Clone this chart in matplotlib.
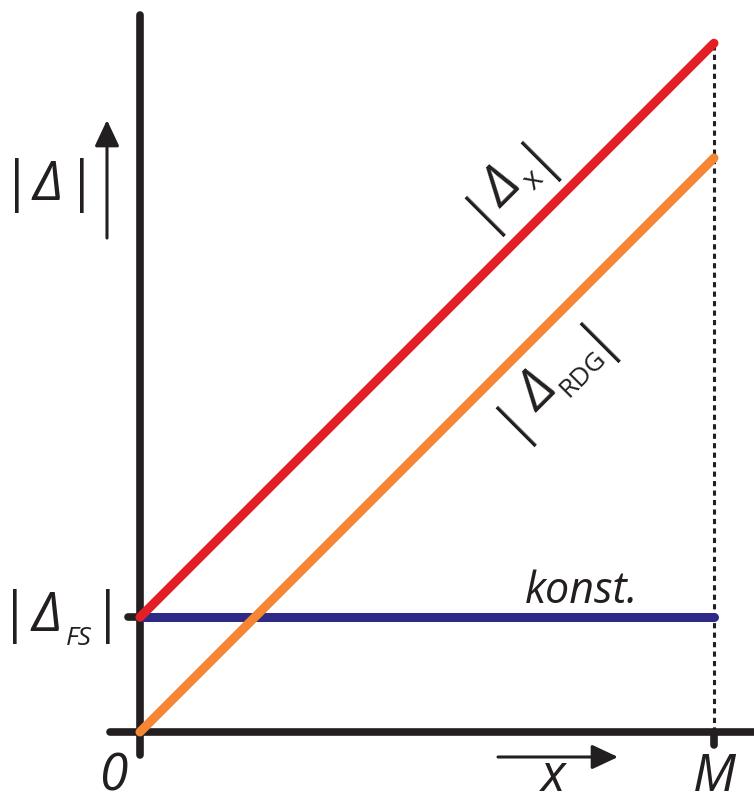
import numpy as np
import matplotlib

matplotlib.use("Agg")
from matplotlib import pyplot as plt
from matplotlib.patches import FancyArrowPatch
from matplotlib.transforms import ScaledTranslation

# schematic values: x runs from 0 to M, |Delta| in units of the slope
x_ends = [0.0, 1.0]
delta_fs = 0.2
delta_x = [0.2, 1.2]
delta_rdg = [0.0, 1.0]
delta_const = [0.2, 0.2]

RED = "#e31f26"
ORANGE = "#f58634"
BLUE = "#2e2a85"
INK = "#231f20"
FONT = "Open Sans"

fig = plt.figure(figsize=(7.54, 8.02), dpi=100)
ax = fig.add_axes([0, 0, 1, 1])
ax.set_xlim(-0.2439, 1.0697)
ax.set_ylim(-0.1220, 1.2753)
ax.axis("off")


def label(x, y, parts, angle=0.0):
    """Draw a label made of pieces; offsets (u, v) are pixels in the rotated frame."""
    th = np.radians(angle)
    for text, size, style, u, v in parts:
        ox = u * np.cos(th) - v * np.sin(th)
        oy = u * np.sin(th) + v * np.cos(th)
        tr = ax.transData + ScaledTranslation(ox / fig.dpi, oy / fig.dpi, fig.dpi_scale_trans)
        ax.text(x, y, text, transform=tr, rotation=angle, rotation_mode="anchor",
                ha="center", va="baseline", fontsize=size, fontstyle=style,
                family=FONT, color=INK)


# axes
ax.plot([0, 0], [-0.040, 1.249], color=INK, lw=5.5, solid_capstyle="round")
ax.plot([-0.052, 1.075], [0, 0], color=INK, lw=5.5, solid_capstyle="round")
ax.plot([-0.021, 0], [delta_fs, delta_fs], color=INK, lw=5.5, solid_capstyle="round")
ax.plot([x_ends[1], x_ends[1]], [-0.0226, 0], color=INK, lw=5.5, solid_capstyle="round")
ax.plot([x_ends[1], x_ends[1]], [0, delta_x[1]], color=INK, lw=2.2,
        linestyle=(0, (1.7, 1.4)))

# curves
ax.plot(x_ends, delta_const, color=BLUE, lw=6.5, solid_capstyle="round")
ax.plot(x_ends, delta_rdg, color=ORANGE, lw=6.5, solid_capstyle="round")
ax.plot(x_ends, delta_x, color=RED, lw=6.5, solid_capstyle="round")

# direction arrows
for start, end in [((-0.0575, 0.8606), (-0.0575, 1.0662)),
                   ((0.6237, -0.0436), (0.8328, -0.0436))]:
    ax.add_patch(FancyArrowPatch(start, end, arrowstyle="-|>,head_length=16,head_width=7.5",
                                 mutation_scale=1, color=INK, lw=2.2,
                                 shrinkA=0, shrinkB=0))

# labels
label(-0.2143, 0.9268, [("|", 39, "normal", 0, 0), ("Δ", 39, "italic", 31, 0),
                        ("|", 39, "normal", 65, 0)])
label(-0.2178, 0.1760, [("|", 39, "normal", 0, 0), ("Δ", 39, "italic", 32, 0),
                        ("FS", 19, "italic", 64, -14), ("|", 39, "normal", 93, 0)])
label(0.6146, 0.8958, [("|", 39, "normal", 0, 0), ("Δ", 39, "italic", 28, 0),
                       ("x", 21, "normal", 55, -10), ("|", 39, "normal", 79, 0)], angle=45)
label(0.6669, 0.5300, [("|", 39, "normal", 0, 0), ("Δ", 39, "italic", 36, 0),
                       ("RDG", 19, "normal", 81, -11), ("|", 39, "normal", 120, 0)], angle=45)

ax.text(0.7700, 0.2247, "konst.", ha="center", va="baseline", fontsize=31,
        fontstyle="italic", family=FONT, color=INK)
ax.text(-0.047, -0.1028, "0", ha="center", va="baseline", fontsize=37,
        fontstyle="italic", family=FONT, color=INK)
ax.text(x_ends[1], -0.1028, "M", ha="center", va="baseline", fontsize=37,
        fontstyle="italic", family=FONT, color=INK)
ax.text(0.7195, -0.1028, "x", ha="center", va="baseline", fontsize=37,
        fontstyle="italic", family=FONT, color=INK)

fig.savefig("out.png", dpi=100)
